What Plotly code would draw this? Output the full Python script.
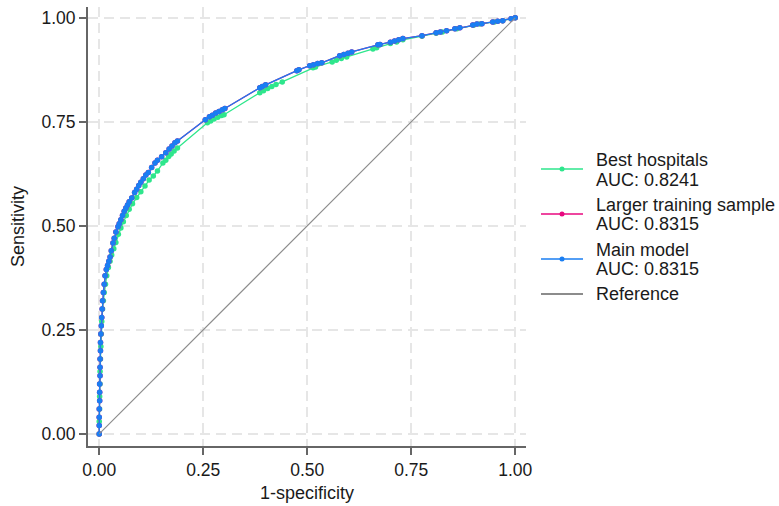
import plotly.graph_objects as go

# ---- data ----
main_fpr = [0.0, 0.0, 0.0, 0.0, 0.001, 0.001, 0.001, 0.002, 0.002, 0.002, 0.003, 0.003, 0.004, 0.005,
            0.006, 0.007, 0.008, 0.010, 0.012, 0.014, 0.017, 0.020, 0.023, 0.026, 0.029, 0.033, 0.036,
            0.040, 0.045, 0.048, 0.052, 0.056, 0.060, 0.064, 0.068, 0.072, 0.078, 0.085, 0.090, 0.095,
            0.100, 0.106, 0.112, 0.118, 0.126, 0.134, 0.140, 0.150, 0.160, 0.168, 0.175, 0.182, 0.188,
            0.255, 0.265, 0.272, 0.280, 0.288, 0.296, 0.302,
            0.386, 0.392, 0.400, 0.475, 0.480, 0.506, 0.515, 0.525, 0.535,
            0.578, 0.588, 0.598, 0.607, 0.670, 0.675, 0.700, 0.710, 0.720, 0.730, 0.776,
            0.810, 0.820, 0.835, 0.855, 0.867, 0.898, 0.908, 0.920, 0.946, 0.958, 0.970, 0.990, 1.000]
main_tpr = [0.0, 0.02, 0.04, 0.06, 0.08, 0.10, 0.12, 0.14, 0.16, 0.18, 0.20, 0.22, 0.24, 0.26,
            0.28, 0.30, 0.32, 0.34, 0.36, 0.38, 0.395, 0.405, 0.415, 0.425, 0.44, 0.459, 0.47,
            0.485, 0.498, 0.505, 0.515, 0.525, 0.535, 0.543, 0.55, 0.558, 0.567, 0.58, 0.588, 0.597,
            0.605, 0.613, 0.622, 0.628, 0.64, 0.651, 0.658, 0.666, 0.676, 0.685, 0.692, 0.70, 0.704,
            0.755, 0.762, 0.766, 0.771, 0.775, 0.779, 0.782,
            0.832, 0.835, 0.839, 0.873, 0.875, 0.885, 0.887, 0.89, 0.892,
            0.909, 0.912, 0.915, 0.918, 0.935, 0.936, 0.941, 0.944, 0.947, 0.95, 0.957,
            0.964, 0.966, 0.969, 0.974, 0.976, 0.983, 0.985, 0.986, 0.99, 0.992, 0.993, 0.998, 1.0]

larger_fpr = list(main_fpr)   # identical ROC (AUC 0.8315), hidden under the main model
larger_tpr = list(main_tpr)

best_fpr = [0.0, 0.0, 0.001, 0.001, 0.002, 0.002, 0.003, 0.004, 0.005, 0.006, 0.008, 0.010, 0.012,
            0.015, 0.018, 0.022, 0.026, 0.030, 0.035, 0.040, 0.046, 0.052, 0.058, 0.065, 0.072, 0.080,
            0.090, 0.100, 0.110, 0.120, 0.130, 0.140, 0.153, 0.160, 0.167, 0.173, 0.180, 0.188,
            0.260, 0.268, 0.276, 0.285, 0.294, 0.300,
            0.386, 0.395, 0.405, 0.415, 0.425, 0.440, 0.514, 0.520,
            0.560, 0.570, 0.582, 0.595, 0.658, 0.667, 0.700, 0.715, 0.730, 0.776,
            0.810, 0.825, 0.860, 0.900, 0.915, 0.950, 0.970, 1.000]
best_tpr = [0.0, 0.03, 0.06, 0.09, 0.12, 0.15, 0.18, 0.21, 0.24, 0.27, 0.30, 0.32, 0.34,
            0.36, 0.38, 0.40, 0.415, 0.43, 0.445, 0.46, 0.48, 0.495, 0.51, 0.525, 0.54, 0.553,
            0.568, 0.582, 0.596, 0.61, 0.62, 0.632, 0.651, 0.658, 0.667, 0.673, 0.68, 0.687,
            0.748, 0.752, 0.757, 0.761, 0.765, 0.767,
            0.82, 0.825, 0.83, 0.835, 0.84, 0.846, 0.88, 0.882,
            0.894, 0.898, 0.902, 0.906, 0.925, 0.928, 0.938, 0.942, 0.947, 0.956,
            0.963, 0.966, 0.974, 0.982, 0.985, 0.99, 0.993, 1.0]

ref_x = [0, 1]
ref_y = [0, 1]

series_names = ["Best hospitals<br>AUC: 0.8241", "Larger training sample<br>AUC: 0.8315",
                "Main model<br>AUC: 0.8315", "Reference"]
legend_lines = [["Best hospitals", "AUC: 0.8241"], ["Larger training sample", "AUC: 0.8315"],
                ["Main model", "AUC: 0.8315"], ["Reference"]]
tick_vals = [0, 0.25, 0.5, 0.75, 1.0]

GREEN = "#2ee68c"
PINK = "#e8087f"
BLUE = "#1a7ef2"
GRAY = "#8c8c8c"
FONT = "Liberation Sans, Arial, sans-serif"

fig = go.Figure()
for fx, ty, col, nm in [(best_fpr, best_tpr, GREEN, series_names[0]),
                        (larger_fpr, larger_tpr, PINK, series_names[1]),
                        (main_fpr, main_tpr, BLUE, series_names[2])]:
    fig.add_trace(go.Scatter(x=fx, y=ty, mode="lines+markers", name=nm, showlegend=False,
                             line=dict(color=col, width=1.3),
                             marker=dict(color=col, size=5.5)))
fig.add_trace(go.Scatter(x=ref_x, y=ref_y, mode="lines", name=series_names[3], showlegend=False,
                         line=dict(color=GRAY, width=1.2)))

# manual legend (positions in pixels converted to paper coords)
L, R, T, B, W, H = 88, 253, 7, 60, 779, 506
pw, ph = W - L - R, H - T - B
def px(x): return (x - L) / pw
def py(y): return (H - B - y) / ph

legend_cols = [GREEN, PINK, BLUE, GRAY]
sample_y = [169, 214, 259, 294]
text_y = [[160, 180], [205, 224], [250, 269], [294]]
for col, sy, lines, tys, i in zip(legend_cols, sample_y, legend_lines, text_y, range(4)):
    fig.add_shape(type="line", xref="paper", yref="paper", x0=px(541), x1=px(583), y0=py(sy), y1=py(sy),
                  line=dict(color=col, width=1.3 if i < 3 else 2))
    if i < 3:
        fig.add_shape(type="circle", xref="paper", yref="paper", xsizemode="pixel", ysizemode="pixel",
                      xanchor=px(562), yanchor=py(sy), x0=-2.5, x1=2.5, y0=-2.5, y1=2.5,
                      fillcolor=col, line=dict(color=col, width=0))
    for t, ty in zip(lines, tys):
        fig.add_annotation(text=t, xref="paper", yref="paper", x=px(594), y=py(ty),
                           xanchor="left", yanchor="middle", showarrow=False,
                           font=dict(size=18, color="#1a1a1a", family=FONT))

axis_common = dict(showline=True, linecolor="#666666", linewidth=2, ticks="outside", ticklen=7,
                   tickwidth=1.5, tickcolor="#666666", tickvals=tick_vals, tickformat=".2f",
                   showgrid=True, gridcolor="#e6e6e6", gridwidth=1.5, griddash="10px,6px",
                   zeroline=False, tickfont=dict(size=17.5, color="#1a1a1a", family=FONT),
                   mirror=False)
fig.update_xaxes(range=[-0.027, 1.026], title=dict(text="1-specificity", standoff=7,
                 font=dict(size=18, color="#1a1a1a", family=FONT)), **axis_common)
fig.update_yaxes(range=[-0.029, 1.026], title=dict(text="Sensitivity", standoff=12,
                 font=dict(size=18, color="#1a1a1a", family=FONT)), **axis_common)

fig.update_layout(width=W, height=H, margin=dict(l=L, r=R, t=T, b=B),
                  paper_bgcolor="white", plot_bgcolor="white", showlegend=False,
                  font=dict(family=FONT))
fig.write_html("out.html")
